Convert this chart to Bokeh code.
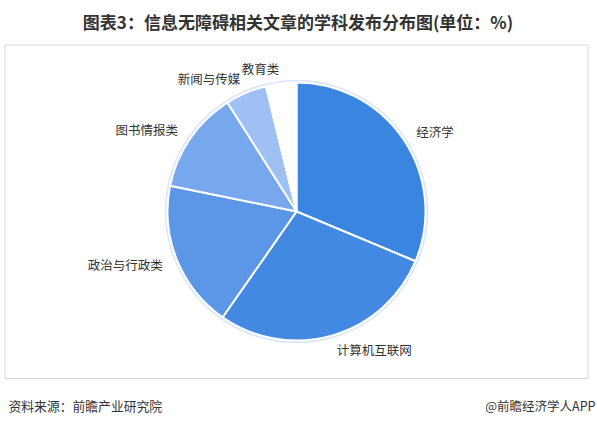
import math
from bokeh.plotting import figure
from bokeh.models import Range1d, ColumnDataSource
from bokeh.core.properties import value
from bokeh.embed import file_html
from bokeh.resources import INLINE

# ---- data ----
categories = ["经济学", "计算机互联网", "政治与行政类", "图书情报类", "新闻与传媒", "教育类"]
values = [31.3, 28.4, 18.5, 12.8, 5.2, 3.8]
colors = ["#3a85e0", "#4489e1", "#5c96e6", "#77a7ec", "#9fc0f2", "#ffffff"]
title_text = "图表3：信息无障碍相关文章的学科发布分布图(单位：%)"
source_text = "资料来源：前瞻产业研究院"
brand_text = "@前瞻经济学人APP"

W, H = 597, 425
FONT = "Noto Sans CJK SC"

p = figure(width=W, height=H, output_backend="svg", toolbar_location=None,
           x_range=Range1d(0, W), y_range=Range1d(0, H), min_border=0,
           background_fill_color="white", border_fill_color="white")
p.axis.visible = False
p.grid.visible = False
p.outline_line_color = None

# frame box
p.quad(left=[4.5], right=[587.5], bottom=[H - 378], top=[H - 44.5],
       fill_color=None, line_color="#d9d9d9", line_width=1)

cx, cy, r = 296, H - 211, 129

total = sum(values)
starts, ends, mids = [], [], []
cum = 0.0
for v in values:
    a0 = math.pi / 2 - cum / total * 2 * math.pi
    cum += v
    a1 = math.pi / 2 - cum / total * 2 * math.pi
    starts.append(a0)
    ends.append(a1)
    mids.append((a0 + a1) / 2)

src = ColumnDataSource(dict(cat=categories, val=values, color=colors,
                            start=starts, end=ends))

# soft halo
p.scatter(x=[cx], y=[cy], size=2 * r + 3, marker="circle",
          fill_color=None, line_color="#dce8f9", line_width=2.5)

p.wedge(x=cx, y=cy, radius=r, start_angle="start", end_angle="end",
        direction="clock", fill_color="color", line_color="white",
        line_width=2, source=src)

# labels
lr = r + 15
lx, ly, al = [], [], []
for m in mids:
    x = cx + lr * math.cos(m)
    y = cy + lr * math.sin(m)
    lx.append(x)
    ly.append(y)
    al.append("left" if math.cos(m) > 0.02 else "right")
lsrc = ColumnDataSource(dict(x=lx, y=ly, t=categories, a=al))
p.text(x="x", y="y", text="t", text_align="a", text_baseline="middle",
       text_font=value(FONT), text_font_size="12.5px", text_color="#333333",
       source=lsrc)

# title
p.text(x=[297.5], y=[H - 21], text=[title_text], text_align="center",
       text_baseline="middle", text_font=value(FONT), text_font_size="17px",
       text_font_style="bold", text_color="#333333")

# footer
p.text(x=[8], y=[H - 405], text=[source_text], text_align="left",
       text_baseline="middle", text_font=value(FONT), text_font_size="12.8px",
       text_color="#333333")
p.text(x=[595], y=[H - 405], text=[brand_text], text_align="right",
       text_baseline="middle", text_font=value(FONT), text_font_size="12.5px",
       text_color="#333333")

open("out.html", "w").write(file_html(p, INLINE))
